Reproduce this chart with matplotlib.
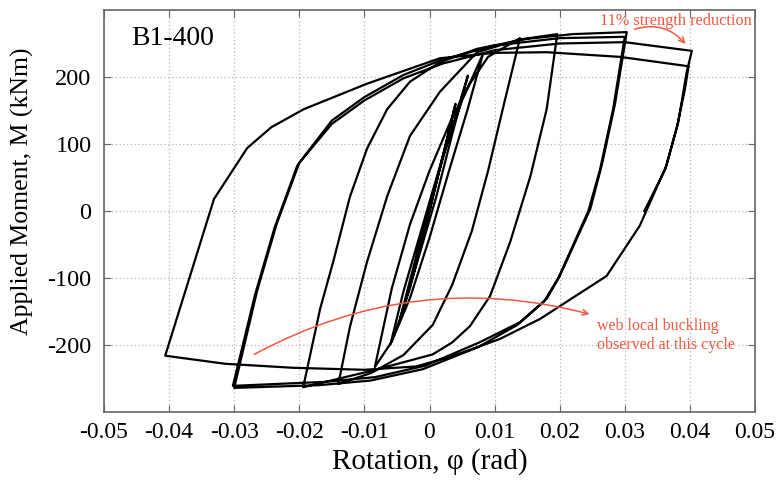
import numpy as np
import matplotlib
matplotlib.use('Agg')
import matplotlib.pyplot as plt

plt.rcParams['font.family'] = ['Liberation Serif', 'DejaVu Serif']
plt.rcParams['axes.unicode_minus'] = False

# hysteresis path, one piece per cycle (rotation in rad, moment in kNm)
load_rot = [0.0, 0.002, 0.0040]
load_mom = [0, 80, 160]

cyc1_rot = [0.0040, 0.0015, -0.001, -0.003, -0.0045, -0.0025, 0.0, 0.003, 0.0059]
cyc1_mom = [160, 60, -40, -115, -160, -85, 10, 110, 202]

cyc2_rot = [0.0059, 0.0035, 0.001, -0.002, -0.0045, -0.0060, -0.004, -0.001, 0.002, 0.005, 0.0082]
cyc2_mom = [202, 115, 20, -80, -160, -199, -120, -20, 80, 165, 234]

cyc3_rot = [0.0082, 0.0058, 0.003, 0.0, -0.003, -0.0058, -0.0084, -0.0058, -0.003, 0.0, 0.0035,
            0.0062, 0.009, 0.0139]
cyc3_mom = [234, 150, 60, -40, -130, -195, -233, -116, -20, 60, 140, 190, 230, 258]

cyc4_rot = [0.0139, 0.0112, 0.009, 0.0065, 0.0035, 0.0005, -0.004, -0.009, -0.014, -0.0122, -0.0096,
            -0.0065, -0.003, 0.0016, 0.0073, 0.0139, 0.0196]
cyc4_mom = [258, 150, 60, -30, -110, -170, -215, -242, -258, -172, -76, 22, 112, 178, 237, 256, 264]

cyc5_rot = [0.0196, 0.018, 0.0155, 0.0124, 0.0093, 0.0062, 0.0035, 0.0005, -0.0087, -0.0194, -0.0168,
            -0.0148, -0.0122, -0.0096, -0.0065, -0.003, 0.0016, 0.0073, 0.015, 0.022, 0.0303]
cyc5_mom = [262, 152, 52, -46, -127, -172, -196, -214, -238, -263, -146, -76, 22, 93, 152, 193, 222,
            242, 257, 264, 267]

cyc6_rot = [0.0303, 0.0285, 0.0265, 0.0247, 0.020, 0.018, 0.0139, 0.0077, -0.0007, -0.0084, -0.016,
            -0.0302, -0.0268, -0.0238, -0.0203, -0.015, -0.010, -0.004, 0.002, 0.010, 0.020, 0.030]
cyc6_mom = [267, 160, 70, 3, -97, -131, -166, -196, -231, -248, -255, -261, -125, -25, 68, 135, 170,
            203, 226, 247, 258, 260]

cyc7_rot = [0.030, 0.0282, 0.0262, 0.0244, 0.0198, 0.0176, 0.0135, 0.0075, -0.001, -0.009, -0.017,
            -0.030, -0.0265, -0.0235, -0.020, -0.015, -0.010, -0.004, 0.002, 0.010, 0.020, 0.030, 0.0403]
cyc7_mom = [260, 152, 62, 0, -100, -135, -170, -203, -236, -253, -260, -264, -120, -20, 72, 130, 165,
            198, 220, 240, 250, 252, 239]

cyc8_rot = [0.0403, 0.0395, 0.0382, 0.0364, 0.0323, 0.0272, 0.0170, 0.0108, 0.004, -0.002, -0.010,
            -0.021, -0.0314, -0.0406, -0.0331, -0.0280, -0.0243, -0.0193, -0.0096, 0.0016, 0.010,
            0.018, 0.0293, 0.0398]
cyc8_mom = [239, 207, 132, 68, -22, -97, -161, -191, -215, -232, -237, -234, -228, -216, 18, 94, 125,
            152, 190, 228, 236, 237, 230, 216]

end_rot = [0.0398, 0.0392, 0.0380, 0.0362, 0.033]
end_mom = [216, 180, 125, 62, 0]

xticks = [-0.05, -0.04, -0.03, -0.02, -0.01, 0, 0.01, 0.02, 0.03, 0.04, 0.05]
xlabels = ['-0.05', '-0.04', '-0.03', '-0.02', '-0.01', '0', '0.01', '0.02', '0.03', '0.04', '0.05']
yticks = [-200, -100, 0, 100, 200]

rot = np.concatenate([load_rot, cyc1_rot, cyc2_rot, cyc3_rot, cyc4_rot, cyc5_rot,
                      cyc6_rot, cyc7_rot, cyc8_rot, end_rot])
mom = np.concatenate([load_mom, cyc1_mom, cyc2_mom, cyc3_mom, cyc4_mom, cyc5_mom,
                      cyc6_mom, cyc7_mom, cyc8_mom, end_mom])

red = '#ee5a3f'

fig = plt.figure(figsize=(7.77, 4.88), dpi=100)
ax = fig.add_axes([104/777, 1 - 412/488, (755 - 104)/777, (412 - 10)/488])

ax.plot(rot, mom, color='black', lw=1.6, solid_joinstyle='round')

ax.set_xlim(-0.05, 0.05)
ax.set_ylim(-300, 300)
ax.set_xticks(xticks)
ax.set_xticklabels(xlabels)
ax.set_yticks(yticks)
ax.grid(True, color='#b5b5b5', ls=(0, (1, 2)), lw=0.9)
ax.tick_params(direction='in', top=True, right=True, length=5, color='#666666')
ax.tick_params(axis='x', labelsize=17, pad=7)
ax.tick_params(axis='y', labelsize=17.5, pad=9)
for s in ax.spines.values():
    s.set_color('#666666')
    s.set_linewidth(1.2)

ax.set_xlabel('Rotation, φ (rad)', fontsize=21, labelpad=4)
ax.set_ylabel('Applied Moment, M (kNm)', fontsize=18.5)
ax.yaxis.set_label_coords(-0.107, 0.55)

ax.text(-0.0458, 258, 'B1-400', fontsize=20, ha='left', va='center')

ax.text(0.0262, 284, '11% strength reduction', fontsize=11.7, color=red, ha='left', va='center')
ax.annotate('', xy=(0.0396, 246), xytext=(0.0311, 270),
            arrowprops=dict(arrowstyle='->', color=red, lw=1.1,
                            connectionstyle='arc3,rad=-0.35'))

ax.text(0.0257, -186, 'web local buckling\nobserved at this cycle', fontsize=11.5, color=red,
        ha='left', va='center', linespacing=1.3)
ax.annotate('', xy=(0.0250, -155), xytext=(-0.0273, -216),
            arrowprops=dict(arrowstyle='->', color=red, lw=1.1,
                            connectionstyle='arc3,rad=-0.2'))

fig.savefig('out.png', dpi=100)
